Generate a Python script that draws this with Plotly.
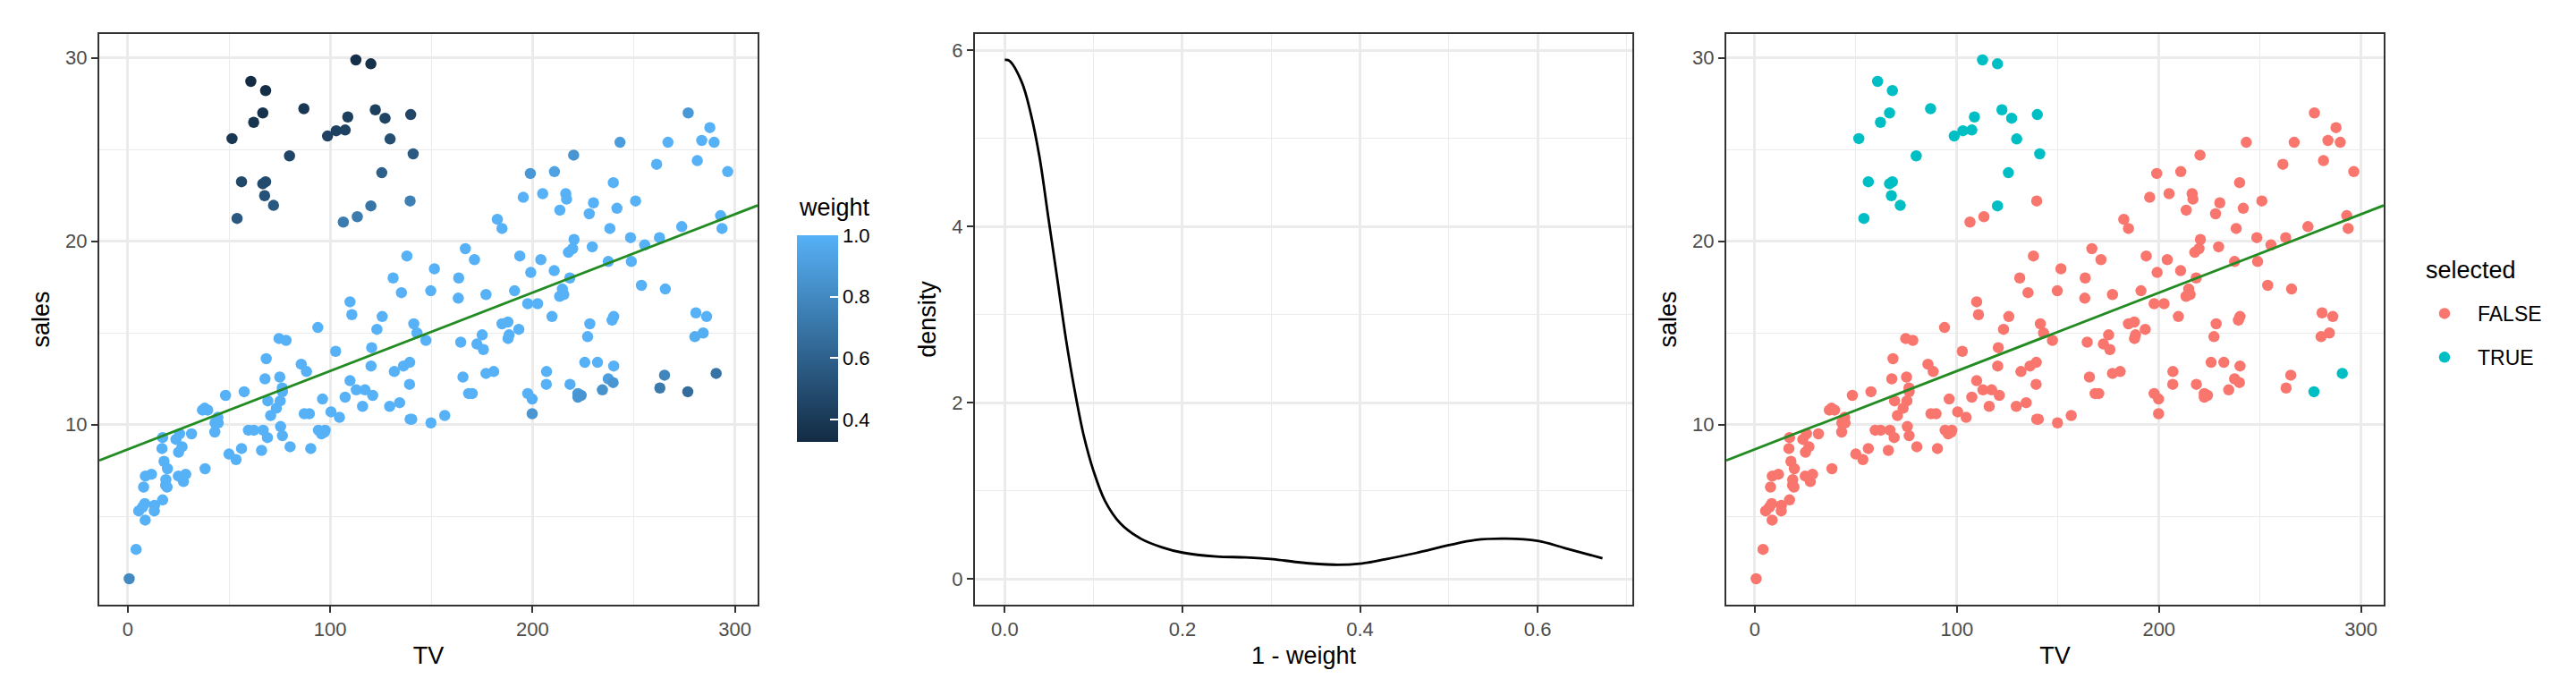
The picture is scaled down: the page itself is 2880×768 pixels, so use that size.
import plotly.graph_objects as go
from plotly.subplots import make_subplots

# Advertising data (TV spend vs sales), 200 rows
ADV_TV = [
    230.1, 44.5, 17.2, 151.5, 180.8, 8.7, 57.5, 120.2, 8.6, 199.8,
    66.1, 214.7, 23.8, 97.5, 204.1, 195.4, 67.8, 281.4, 69.2, 147.3,
    218.4, 237.4, 13.2, 228.3, 62.3, 262.9, 142.9, 240.1, 248.8, 70.6,
    292.9, 112.9, 97.2, 265.6, 95.7, 290.7, 266.9, 74.7, 43.1, 228.0,
    202.5, 177.0, 293.6, 206.9, 25.1, 175.1, 89.7, 239.9, 227.2, 66.9,
    199.8, 100.4, 216.4, 182.6, 262.7, 198.9, 7.3, 136.2, 210.8, 210.7,
    53.5, 261.3, 239.3, 102.7, 131.1, 69.0, 31.5, 139.3, 237.4, 216.8,
    199.1, 109.8, 26.8, 129.4, 213.4, 16.9, 27.5, 120.5, 5.4, 116.0,
    76.4, 239.8, 75.3, 68.4, 213.5, 193.2, 76.3, 110.7, 88.3, 109.8,
    134.3, 28.6, 217.7, 250.9, 107.4, 163.3, 197.6, 184.9, 289.7, 135.2,
    222.4, 296.4, 280.2, 187.9, 238.2, 137.9, 25.0, 90.4, 13.1, 255.4,
    225.8, 241.7, 175.7, 209.6, 78.2, 75.1, 139.2, 76.4, 125.7, 19.4,
    141.3, 18.8, 224.0, 123.1, 229.5, 87.2, 7.8, 80.2, 220.3, 59.6,
    0.7, 265.2, 8.4, 219.8, 36.9, 48.3, 25.6, 273.7, 43.0, 184.9,
    73.4, 193.7, 220.5, 104.6, 96.2, 140.3, 240.1, 243.2, 38.0, 44.7,
    280.7, 121.0, 197.6, 171.3, 187.8, 4.1, 93.9, 149.8, 11.7, 131.7,
    172.5, 85.7, 188.4, 163.5, 117.2, 234.5, 17.9, 206.8, 215.4, 284.3,
    50.0, 164.5, 19.6, 168.4, 222.4, 276.9, 248.4, 170.2, 276.7, 165.6,
    156.6, 218.5, 56.2, 287.6, 253.8, 205.0, 139.5, 191.1, 286.0, 18.7,
    39.5, 75.5, 17.2, 166.8, 149.7, 38.2, 94.2, 177.0, 283.6, 232.1,
]
ADV_SALES = [
    22.1, 10.4, 9.3, 18.5, 12.9, 7.2, 11.8, 13.2, 4.8, 10.6,
    8.6, 17.4, 9.2, 9.7, 19.0, 22.4, 12.5, 24.4, 11.3, 14.6,
    18.0, 12.5, 5.6, 15.5, 9.7, 12.0, 15.0, 15.9, 18.9, 10.5,
    21.4, 11.9, 9.6, 17.4, 9.5, 12.8, 25.4, 14.7, 10.1, 21.5,
    16.6, 17.1, 20.7, 12.9, 8.5, 14.9, 10.6, 23.2, 14.8, 9.7,
    11.4, 10.7, 22.6, 21.2, 20.2, 23.7, 5.5, 13.2, 23.8, 18.4,
    8.1, 24.2, 15.7, 14.0, 18.0, 9.3, 9.5, 13.4, 18.9, 22.3,
    18.3, 12.4, 8.8, 11.0, 17.0, 8.7, 6.9, 14.2, 5.3, 11.0,
    11.8, 12.3, 11.3, 13.6, 21.7, 15.2, 12.0, 16.0, 12.9, 16.7,
    11.2, 7.3, 19.4, 22.2, 11.5, 16.9, 11.7, 15.5, 25.4, 17.2,
    11.7, 23.8, 14.8, 14.7, 20.7, 19.2, 7.2, 8.7, 5.3, 19.8,
    13.4, 21.8, 14.1, 15.9, 14.6, 12.6, 12.2, 9.4, 15.9, 6.6,
    15.5, 7.0, 11.6, 15.2, 19.7, 10.6, 6.6, 8.8, 24.7, 9.7,
    1.6, 12.7, 5.7, 19.6, 10.8, 11.6, 9.5, 20.8, 9.6, 20.7,
    10.9, 19.2, 20.1, 10.4, 11.4, 10.3, 13.2, 25.4, 10.9, 10.1,
    16.1, 11.6, 16.6, 19.0, 15.6, 3.2, 15.3, 10.1, 7.3, 12.9,
    14.4, 13.3, 14.9, 18.0, 11.9, 11.9, 8.0, 12.2, 17.1, 15.0,
    8.4, 14.5, 7.6, 11.7, 11.5, 27.0, 20.2, 11.7, 11.8, 12.6,
    10.5, 12.2, 8.7, 26.2, 17.6, 22.6, 10.3, 17.3, 15.9, 6.7,
    10.8, 9.9, 5.9, 19.6, 17.3, 7.6, 9.7, 12.8, 25.5, 13.4,
]
ADV_WEIGHT = [
    1, 1, 1, 1, 1, 1, 1, 1, 1, 0.866,
    1, 1, 1, 1, 1, 1, 1, 1, 1, 1,
    1, 0.906, 1, 1, 1, 0.724, 1, 1, 1, 1,
    1, 1, 1, 1, 1, 0.690, 1, 1, 1, 1,
    1, 1, 1, 1, 1, 1, 1, 1, 1, 1,
    0.986, 1, 1, 1, 1, 0.873, 1, 1, 0.931, 1,
    1, 1, 1, 1, 1, 1, 1, 1, 1, 1,
    1, 1, 1, 1, 1, 1, 1, 1, 1, 1,
    1, 0.865, 1, 1, 1, 1, 1, 1, 1, 1,
    1, 1, 1, 1, 1, 1, 1, 1, 1, 1,
    0.884, 1, 0.979, 1, 1, 1, 1, 1, 1, 1,
    1, 1, 1, 1, 1, 1, 1, 1, 1, 1,
    1, 1, 0.861, 1, 1, 1, 1, 1, 0.861, 1,
    0.806, 0.783, 1, 1, 1, 1, 1, 1, 1, 1,
    1, 1, 1, 1, 1, 1, 0.998, 0.899, 1, 1,
    1, 1, 1, 1, 1, 1, 1, 1, 1, 1,
    1, 1, 1, 1, 1, 0.842, 1, 1, 1, 0.983,
    1, 1, 1, 1, 0.857, 0.877, 1, 1, 0.658, 1,
    1, 0.986, 1, 1, 1, 1, 1, 1, 1, 1,
    1, 1, 1, 1, 1, 1, 1, 1, 1, 1,
]

# injected outliers (high sales at low/medium TV)
OUT_TV = [51.5, 54.0, 56.2, 60.8, 62.2, 66.7, 68.1, 66.7, 68.1, 67.6,
          72.0, 79.9, 87.0, 98.7, 103.0, 107.4, 108.7, 112.7, 120.1, 120.1,
          122.3, 125.5, 127.1, 129.6, 139.8, 141.0, 106.5, 113.4, 139.5]
OUT_SALES = [25.6, 21.25, 23.25, 28.72, 26.49, 27.0, 28.22, 23.14, 23.25, 22.49,
             21.96, 24.66, 27.23, 25.74, 26.03, 26.07, 26.78, 29.89, 29.68, 21.93,
             27.17, 23.74, 26.71, 25.58, 26.91, 24.77, 21.05, 21.34, 22.2]
OUT_WEIGHT = [0.387, 0.555, 0.468, 0.327, 0.376, 0.369, 0.343, 0.491, 0.489, 0.521,
              0.558, 0.454, 0.384, 0.444, 0.440, 0.445, 0.424, 0.348, 0.359, 0.700,
              0.430, 0.587, 0.452, 0.501, 0.465, 0.566, 0.728, 0.728, 0.753]

# robust fit line
INTERCEPT = 8.655
SLOPE = 0.04274
SELECT_CUTOFF = 0.715

# density of 1 - weight
DENS_X = [0.0, 0.005, 0.019, 0.029, 0.039, 0.049, 0.059, 0.069, 0.079, 0.089,
          0.1, 0.113, 0.13, 0.153, 0.177, 0.2, 0.238, 0.271, 0.302, 0.33,
          0.37, 0.4, 0.429, 0.463, 0.5, 0.53, 0.564, 0.6, 0.631, 0.673]
DENS_Y = [5.89, 5.88, 5.64, 5.29, 4.79, 4.10, 3.41, 2.71, 2.12, 1.62,
          1.22, 0.88, 0.63, 0.456, 0.357, 0.297, 0.253, 0.243, 0.223, 0.188,
          0.160, 0.172, 0.223, 0.292, 0.381, 0.44, 0.455, 0.43, 0.347, 0.233]

tv = ADV_TV + OUT_TV
sales = ADV_SALES + OUT_SALES
weight = ADV_WEIGHT + OUT_WEIGHT
selected = [w < SELECT_CUTOFF for w in weight]

W, H = 2880, 768
FONT = "Liberation Sans, Arial, sans-serif"
BORDER = "#333333"
GRID = "#EBEBEB"
LOW, HIGH = "#132B43", "#56B1F7"
RED, TEAL = "#F8766D", "#00BFC4"
LINE_GREEN = "#228B22"
PT = 12.5


def expand(vals, mult=0.05):
    lo, hi = min(vals), max(vals)
    pad = (hi - lo) * mult
    return [lo - pad, hi + pad]


tv_range = expand(tv)
sales_range = expand(sales)
dx_range = expand(DENS_X)
dy_range = expand([0] + DENS_Y)

fig = make_subplots(rows=1, cols=3)

# panel 1: points coloured by weight
fig.add_trace(go.Scatter(
    x=tv, y=sales, mode="markers", showlegend=False,
    marker=dict(
        size=PT, color=weight, cmin=min(weight), cmax=1.0,
        colorscale=[[0, LOW], [1, HIGH]],
        colorbar=dict(
            thickness=46, thicknessmode="pixels",
            len=231, lenmode="pixels",
            x=883 / W, xanchor="left", y=1 - 255 / H, yanchor="top",
            xpad=0, ypad=0, outlinewidth=0,
            tickvals=[0.4, 0.6, 0.8, 1.0], tickformat=".1f",
            ticks="inside", ticklen=9, tickcolor="white", tickwidth=1.5,
            tickfont=dict(size=22, color="black"),
        ),
    ),
), row=1, col=1)
fig.add_trace(go.Scatter(
    x=tv_range, y=[INTERCEPT + SLOPE * v for v in tv_range], mode="lines",
    line=dict(color=LINE_GREEN, width=2.8), showlegend=False,
), row=1, col=1)

# panel 2: density of 1 - weight
fig.add_trace(go.Scatter(
    x=DENS_X, y=DENS_Y, mode="lines", line=dict(color="black", width=2.8, shape="spline"),
    showlegend=False,
), row=1, col=2)

# panel 3: points coloured by selected
for flag, name, col in [(False, "FALSE", RED), (True, "TRUE", TEAL)]:
    fig.add_trace(go.Scatter(
        x=[t for t, s in zip(tv, selected) if s == flag],
        y=[v for v, s in zip(sales, selected) if s == flag],
        mode="markers", name=name, legendgroup=name,
        marker=dict(size=PT, color=col),
    ), row=1, col=3)
fig.add_trace(go.Scatter(
    x=tv_range, y=[INTERCEPT + SLOPE * v for v in tv_range], mode="lines",
    line=dict(color=LINE_GREEN, width=2.8), showlegend=False,
), row=1, col=3)


def axis(domain, rng, dtick, minor, title, standoff, fmt=None):
    d = dict(
        domain=domain, range=rng, tick0=0, dtick=dtick,
        showline=True, mirror=True, linecolor=BORDER, linewidth=2,
        ticks="outside", ticklen=7, tickwidth=2.2, tickcolor=BORDER,
        showgrid=True, gridcolor=GRID, gridwidth=2.6, zeroline=False,
        minor=dict(dtick=minor, showgrid=True, gridcolor=GRID, gridwidth=1.3, ticks=""),
        tickfont=dict(size=22, color="#4D4D4D"),
        title=dict(text=title, font=dict(size=27, color="black"), standoff=standoff),
        automargin=False,
    )
    if fmt:
        d["tickformat"] = fmt
    return d


# legend / colorbar titles placed like ggplot guide titles
guide_titles = [
    dict(text="weight", x=883 / W, y=1 - 224 / H),
    dict(text="selected", x=2702 / W, y=1 - 294 / H),
]

ydom = [1 - 668 / H, 1 - 30 / H]
fig.update_layout(
    width=W, height=H,
    margin=dict(l=0, r=0, t=0, b=0),
    paper_bgcolor="white", plot_bgcolor="white",
    font=dict(family=FONT, color="black"),
    xaxis=axis([103 / W, 839 / W], tv_range, 100, 50, "TV", 8),
    yaxis=axis(ydom, sales_range, 10, 5, "sales", 10),
    xaxis2=axis([1082 / W, 1817 / W], dx_range, 0.2, 0.1, "1 - weight", 8, ".1f"),
    yaxis2=axis(ydom, dy_range, 2, 1, "density", 10),
    xaxis3=axis([1922 / W, 2657 / W], tv_range, 100, 50, "TV", 8),
    yaxis3=axis(ydom, sales_range, 10, 5, "sales", 10),
    legend=dict(
        x=2688 / W, xanchor="left", y=1 - 321 / H, yanchor="top",
        font=dict(size=23, color="black"),
        itemwidth=64, tracegroupgap=16, bgcolor="rgba(0,0,0,0)",
    ),
    annotations=[
        dict(text=g["text"], x=g["x"], y=g["y"], xref="paper", yref="paper",
             xanchor="left", yanchor="middle", showarrow=False,
             font=dict(size=27, color="black"))
        for g in guide_titles
    ],
)

fig.write_html("out.html")
